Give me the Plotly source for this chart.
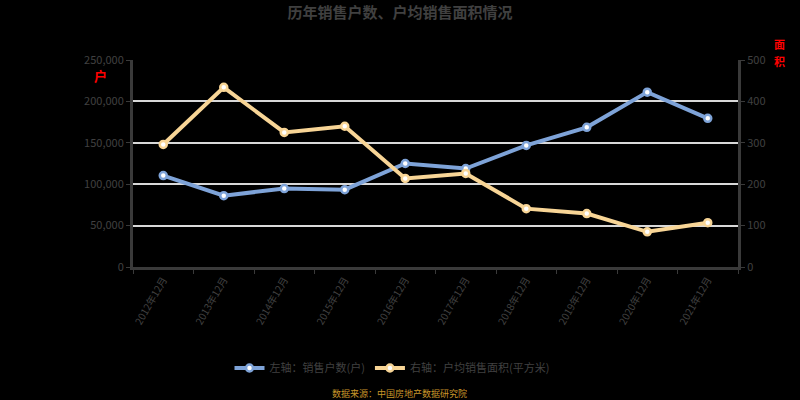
import plotly.graph_objects as go

categories = ["2012年12月", "2013年12月", "2014年12月", "2015年12月", "2016年12月",
              "2017年12月", "2018年12月", "2019年12月", "2020年12月", "2021年12月"]
left_values = [110400, 86200, 94700, 93400, 125000, 118900, 146800, 168700, 211200, 179600]
right_values = [296, 434, 325, 340, 214, 226, 141, 129, 85, 107]
left_ticks = [0, 50000, 100000, 150000, 200000, 250000]
left_tick_text = ["0", "50,000", "100,000", "150,000", "200,000", "250,000"]
right_ticks = [0, 100, 200, 300, 400, 500]

title_text = "历年销售户数、户均销售面积情况"
left_name = "左轴：销售户数(户)"
right_name = "右轴：户均销售面积(平方米)"
source_text = "数据来源：中国房地产数据研究院"
left_unit = "户"
right_unit_chars = ["面", "积"]

FONT = "Noto Sans CJK SC"
TXT = "#404040"
BLUE = "#7ea3d8"
ORANGE = "#f8d596"

fig = go.Figure()
fig.add_trace(go.Scatter(
    x=categories, y=left_values, name=left_name, mode="lines+markers",
    line=dict(color=BLUE, width=4),
    marker=dict(size=7, color="white", line=dict(color=BLUE, width=2.5)),
    yaxis="y"))
fig.add_trace(go.Scatter(
    x=categories, y=right_values, name=right_name, mode="lines+markers",
    line=dict(color=ORANGE, width=4),
    marker=dict(size=7, color="white", line=dict(color=ORANGE, width=2.5)),
    yaxis="y2"))

fig.update_layout(
    width=800, height=400,
    paper_bgcolor="black", plot_bgcolor="black",
    margin=dict(l=133, r=62, t=60, b=133),
    font=dict(family=FONT, color=TXT, size=11),
    title=dict(text="<b>" + title_text + "</b>", x=0.5, xanchor="center", y=0.967, yanchor="middle",
               font=dict(size=15, color=TXT, family=FONT)),
    showlegend=True,
    legend=dict(orientation="h", xref="container", yref="container", x=0.49, xanchor="center",
                y=0.08, yanchor="middle", font=dict(size=11, color=TXT, family=FONT),
                bgcolor="rgba(0,0,0,0)"),
    xaxis=dict(type="category", range=[-0.5, 9.5], showgrid=False, showline=True,
               linecolor="#3a3a3a", linewidth=3, tickangle=-60, ticks="outside",
               tickcolor="#3a3a3a", ticklen=4, tickson="boundaries",
               tickfont=dict(size=10, color=TXT)),
    yaxis=dict(range=[0, 250000], tickvals=left_ticks, ticktext=left_tick_text,
               showgrid=True, gridcolor="#d8d8d8", gridwidth=2, zeroline=False,
               showline=True, linecolor="#3a3a3a", linewidth=3, ticks="outside",
               tickcolor="#3a3a3a", ticklen=4, tickfont=dict(size=11, color=TXT)),
    yaxis2=dict(range=[0, 500], tickvals=right_ticks, overlaying="y", side="right",
                showgrid=False, zeroline=False, showline=True, linecolor="#3a3a3a",
                linewidth=3, ticks="outside", tickcolor="#3a3a3a", ticklen=4,
                tickfont=dict(size=11, color=TXT)),
)

fig.add_annotation(text="<b>" + left_unit + "</b>", xref="paper", yref="paper", x=-0.053, y=0.925,
                   xanchor="center", yanchor="middle",
                   showarrow=False, font=dict(size=13, color="#ff0000", family=FONT))
for ch, yy in zip(right_unit_chars, [1.077, 0.995]):
    fig.add_annotation(text="<b>" + ch + "</b>", xref="paper", yref="paper", x=1.068, y=yy,
                       xanchor="center", yanchor="middle", borderpad=0,
                       showarrow=False, font=dict(size=11, color="#ff0000", family=FONT))
fig.add_annotation(text=source_text, xref="paper", yref="paper", x=0.441, y=-0.609,
                   xanchor="center", yanchor="middle",
                   showarrow=False, font=dict(size=9, color="#c8962a", family=FONT))

fig.write_html("out.html", config={"displayModeBar": False},
               post_script="document.body.style.margin='0';document.body.style.background='black';")
